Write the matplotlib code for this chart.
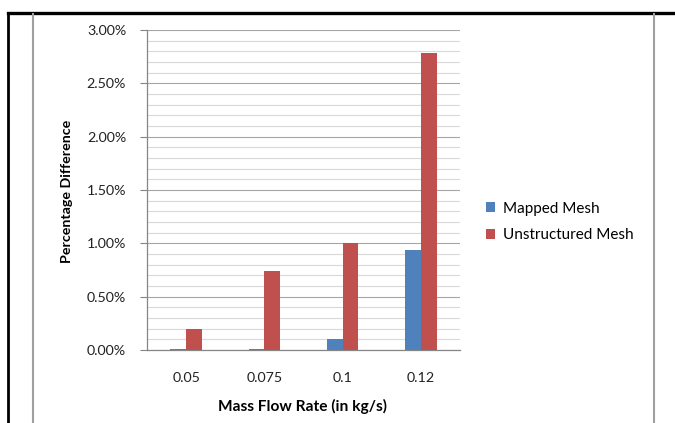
import matplotlib
matplotlib.use("Agg")
import matplotlib.pyplot as plt
import numpy as np
from matplotlib.lines import Line2D
from matplotlib.ticker import MultipleLocator, FuncFormatter

plt.rcParams['font.family'] = ['Lato', 'DejaVu Sans']

# data (percent)
flow_rates = ["0.05", "0.075", "0.1", "0.12"]
mapped = [0.01, 0.01, 0.10, 0.94]
unstructured = [0.20, 0.74, 1.00, 2.78]
series_names = ["Mapped Mesh", "Unstructured Mesh"]

blue = "#4F81BD"
red = "#C0504D"

fig = plt.figure(figsize=(6.75, 4.23), dpi=100)
ax = fig.add_axes([147/675, 1 - 350/423, 313/675, 320/423])

x = np.arange(len(flow_rates))
w = 0.2
ax.bar(x - w/2, mapped, w, color=blue, label=series_names[0], zorder=3)
ax.bar(x + w/2, unstructured, w, color=red, label=series_names[1], zorder=3)

ax.set_xlim(-0.5, len(flow_rates) - 0.5)
ax.set_ylim(0, 3.0)
ax.yaxis.set_major_locator(MultipleLocator(0.5))
ax.yaxis.set_minor_locator(MultipleLocator(0.1))
ax.yaxis.set_major_formatter(FuncFormatter(lambda v, p: "%.2f%%" % v))
ax.grid(axis='y', which='minor', color='#D9D9D9', lw=0.8, zorder=0)
ax.grid(axis='y', which='major', color='#A6A6A6', lw=0.8, zorder=0)

ax.set_xticks(x)
ax.set_xticklabels(flow_rates)
ax.tick_params(axis='x', length=0, pad=16, labelsize=10.3, labelcolor='#222222')
ax.tick_params(axis='y', which='major', length=5, width=0.8, color='#868686',
               pad=10, labelsize=10.3, labelcolor='#222222')
ax.tick_params(axis='y', which='minor', length=0)

for s in ['top', 'right']:
    ax.spines[s].set_visible(False)
for s in ['left', 'bottom']:
    ax.spines[s].set_color('#868686')
    ax.spines[s].set_linewidth(0.9)

fig.text(303/675, 1 - 406/423, "Mass Flow Rate (in kg/s)", ha='center', va='center',
         fontsize=11.2, fontweight='bold')
fig.text(67/675, 1 - 191/423, "Percentage Difference", ha='center', va='center',
         rotation=90, fontsize=10.3, fontweight='bold')

ax.legend(loc='center left', bbox_to_anchor=(472/675, 1 - 222/423),
          bbox_transform=fig.transFigure, frameon=False, fontsize=11,
          handlelength=0.6, handleheight=0.6, handletextpad=0.5, labelspacing=0.85)

# table cell border around the chart
fig.add_artist(Line2D([8/675, 1], [1 - 13/423] * 2, color='black', lw=2.4))
fig.add_artist(Line2D([8/675] * 2, [0, 1 - 13/423], color='black', lw=2.0))
fig.add_artist(Line2D([33/675] * 2, [0, 1 - 14/423], color='#A0A0A0', lw=1.5))
fig.add_artist(Line2D([654/675] * 2, [0, 1 - 14/423], color='#A0A0A0', lw=1.5))

fig.savefig("out.png", dpi=100)
